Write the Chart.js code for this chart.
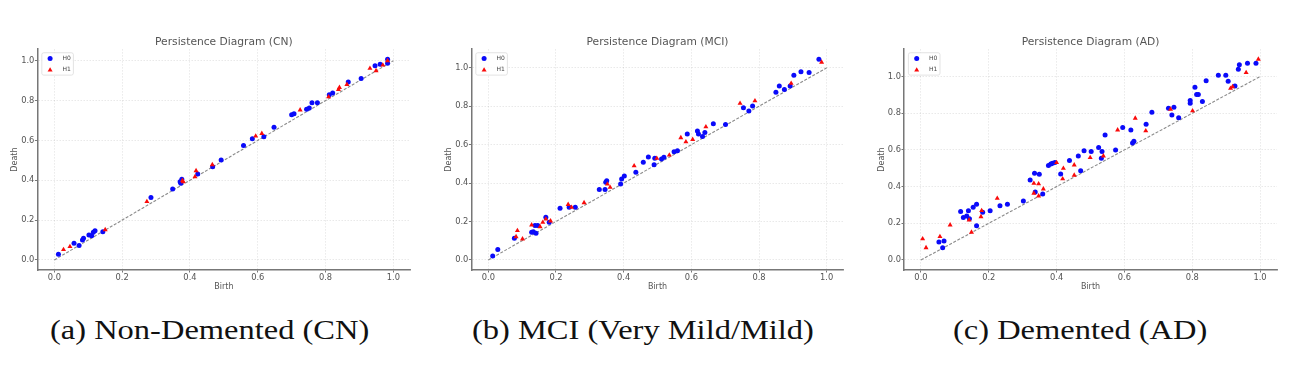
<!DOCTYPE html>
<html>
<head>
<meta charset="utf-8">
<title>Persistence Diagrams</title>
<script src="https://cdn.jsdelivr.net/npm/chart.js@4.4.1/dist/chart.umd.min.js"></script>
<style>
  body { margin: 0; background: #fff; }
  #page { position: relative; width: 1292px; height: 373px; overflow: hidden; }
  .panel { position: absolute; top: 20px; height: 275px; }
  .caption {
    position: absolute; top: 315.5px;
    font-family: 'Liberation Serif', serif; font-size: 28px; line-height: 28px;
    white-space: nowrap; color: #111;
    transform: scaleX(1.16); transform-origin: 0 0;
  }
</style>
</head>
<body>
<div id="page">
  <div class="panel" style="left:0px;width:425px"><canvas id="cn"></canvas></div>
  <div class="panel" style="left:430px;width:425px"><canvas id="mci"></canvas></div>
  <div class="panel" style="left:862px;width:430px"><canvas id="ad"></canvas></div>
  <div class="caption" style="left:50px">(a) Non-Demented (CN)</div>
  <div class="caption" style="left:472px">(b) MCI (Very Mild/Mild)</div>
  <div class="caption" style="left:953px">(c) Demented (AD)</div>
</div>
<script>
// tick values shared by both axes of all three plots
const tickValues = [0, 0.2, 0.4, 0.6, 0.8, 1.0];
// the birth = death reference line
const diagonal = [[0, 0], [1, 1]];
const seriesLabels = ['H0', 'H1'];

// [birth, death] pairs
const cnH0 = [
  [0.012, 0.029], [0.058, 0.084], [0.073, 0.072], [0.083, 0.100], [0.086, 0.109],
  [0.102, 0.125], [0.110, 0.122], [0.115, 0.139], [0.120, 0.147], [0.143, 0.142],
  [0.285, 0.313], [0.349, 0.356], [0.371, 0.393], [0.376, 0.405], [0.373, 0.385],
  [0.423, 0.432], [0.467, 0.468], [0.492, 0.502], [0.558, 0.575], [0.584, 0.609],
  [0.618, 0.619], [0.648, 0.666], [0.700, 0.729], [0.707, 0.734], [0.744, 0.756],
  [0.752, 0.763], [0.760, 0.789], [0.776, 0.789], [0.811, 0.829], [0.821, 0.838],
  [0.867, 0.893], [0.905, 0.911], [0.946, 0.975], [0.961, 0.983], [0.983, 1.008],
  [0.983, 0.987]
];
const cnH1 = [
  [0.027, 0.052], [0.046, 0.067], [0.150, 0.152], [0.273, 0.293], [0.378, 0.399],
  [0.380, 0.392], [0.415, 0.418], [0.418, 0.448], [0.466, 0.478], [0.594, 0.622],
  [0.612, 0.635], [0.725, 0.753], [0.809, 0.819], [0.838, 0.856], [0.841, 0.866],
  [0.863, 0.881], [0.931, 0.962], [0.949, 0.950], [0.969, 0.978], [0.983, 1.000]
];

const mciH0 = [
  [0.013, 0.021], [0.028, 0.055], [0.077, 0.113], [0.128, 0.144], [0.133, 0.147],
  [0.138, 0.179], [0.141, 0.139], [0.146, 0.179], [0.170, 0.222], [0.180, 0.196],
  [0.212, 0.269], [0.239, 0.274], [0.257, 0.274], [0.328, 0.367], [0.345, 0.367],
  [0.347, 0.404], [0.350, 0.412], [0.391, 0.395], [0.394, 0.421], [0.402, 0.437],
  [0.436, 0.456], [0.458, 0.508], [0.473, 0.536], [0.490, 0.496], [0.492, 0.529],
  [0.512, 0.525], [0.519, 0.534], [0.549, 0.563], [0.559, 0.568], [0.588, 0.655],
  [0.618, 0.671], [0.621, 0.655], [0.633, 0.643], [0.640, 0.664], [0.665, 0.709],
  [0.701, 0.705], [0.754, 0.792], [0.770, 0.775], [0.781, 0.801], [0.850, 0.873],
  [0.860, 0.905], [0.875, 0.887], [0.892, 0.905], [0.903, 0.962], [0.924, 0.979],
  [0.948, 0.976], [0.977, 1.045]
];
const mciH1 = [
  [0.082, 0.121], [0.086, 0.153], [0.101, 0.109], [0.128, 0.182], [0.153, 0.173],
  [0.161, 0.196], [0.170, 0.213], [0.184, 0.203], [0.236, 0.289], [0.246, 0.274],
  [0.283, 0.298], [0.352, 0.395], [0.360, 0.378], [0.431, 0.490], [0.498, 0.529],
  [0.535, 0.546], [0.569, 0.636], [0.584, 0.615], [0.604, 0.627], [0.643, 0.693],
  [0.744, 0.815], [0.788, 0.828], [0.895, 0.919], [0.985, 1.029]
];

const adH0 = [
  [0.053, 0.098], [0.064, 0.067], [0.068, 0.104], [0.117, 0.264], [0.125, 0.231],
  [0.135, 0.240], [0.140, 0.269], [0.143, 0.225], [0.154, 0.287], [0.164, 0.304],
  [0.164, 0.187], [0.182, 0.260], [0.204, 0.269], [0.233, 0.295], [0.255, 0.304],
  [0.302, 0.322], [0.322, 0.436], [0.335, 0.473], [0.337, 0.371], [0.349, 0.467],
  [0.359, 0.360], [0.376, 0.515], [0.383, 0.524], [0.388, 0.527], [0.395, 0.531],
  [0.412, 0.469], [0.438, 0.542], [0.464, 0.567], [0.471, 0.487], [0.481, 0.596],
  [0.502, 0.591], [0.524, 0.613], [0.534, 0.591], [0.532, 0.555], [0.543, 0.682],
  [0.574, 0.600], [0.595, 0.722], [0.619, 0.709], [0.624, 0.638], [0.628, 0.647],
  [0.664, 0.740], [0.681, 0.805], [0.730, 0.827], [0.740, 0.791], [0.746, 0.833],
  [0.760, 0.775], [0.794, 0.869], [0.794, 0.855], [0.808, 0.942], [0.813, 0.902],
  [0.818, 0.902], [0.830, 0.864], [0.841, 0.978], [0.877, 1.007], [0.899, 1.007],
  [0.906, 0.975], [0.926, 0.949], [0.936, 1.040], [0.939, 1.065], [0.963, 1.073],
  [0.988, 1.073]
];
const adH1 = [
  [0.005, 0.115], [0.015, 0.067], [0.056, 0.127], [0.086, 0.191], [0.142, 0.218],
  [0.149, 0.151], [0.177, 0.236], [0.179, 0.269], [0.225, 0.336], [0.333, 0.418],
  [0.333, 0.364], [0.347, 0.415], [0.347, 0.349], [0.361, 0.387], [0.400, 0.531],
  [0.418, 0.442], [0.420, 0.500], [0.452, 0.462], [0.452, 0.518], [0.499, 0.558],
  [0.538, 0.567], [0.580, 0.709], [0.632, 0.773], [0.663, 0.704], [0.736, 0.822],
  [0.801, 0.813], [0.913, 0.936], [0.919, 0.945], [0.959, 1.022], [0.995, 1.095]
];

const TEXT = '#555';
const SPINE = '#777';
const FONT = "'DejaVu Sans', sans-serif";

// matplotlib style limits: data range plus 5% each side
function limits(values) {
  const lo = Math.min(...values), hi = Math.max(...values);
  const pad = (hi - lo) * 0.05;
  return [lo - pad, hi + pad];
}

function toPoints(pairs) {
  return pairs.map(p => ({x: p[0], y: p[1]}));
}

// white legend box in the upper left corner of the axes
const legendBox = {
  id: 'legendBox',
  afterDraw(chart) {
    const {ctx, chartArea} = chart;
    const x = chartArea.left + 4.4, y = chartArea.top + 3.6;
    ctx.save();
    ctx.fillStyle = 'rgba(255,255,255,0.85)';
    ctx.strokeStyle = '#dcdcdc';
    ctx.lineWidth = 0.8;
    ctx.beginPath();
    ctx.roundRect(x, y, 31.6, 22.4, 2);
    ctx.fill();
    ctx.stroke();
    chart.data.datasets.filter(d => !d.showLine).forEach((d, i) => {
      const cx = x + 8.3, cy = y + 5.7 + i * 11;
      const r = d.pointRadius;
      ctx.fillStyle = d.backgroundColor;
      ctx.beginPath();
      if (d.pointStyle === 'triangle') {
        for (let k = 0; k < 3; k++) {
          const a = -Math.PI / 2 + k * 2 * Math.PI / 3;
          ctx.lineTo(cx + r * Math.cos(a), cy + r * Math.sin(a) + r * 0.25);
        }
        ctx.closePath();
      } else {
        ctx.arc(cx, cy, r, 0, Math.PI * 2);
      }
      ctx.fill();
      ctx.fillStyle = '#444';
      ctx.font = "6px " + FONT;
      ctx.textBaseline = 'middle';
      ctx.fillText(d.label, x + 20.6, cy);
    });
    ctx.restore();
  }
};

function makePlot(id, title, h0, h1, yAxisWidth, rightPad) {
  const xLim = limits([...h0, ...h1, ...diagonal].map(p => p[0]));
  const yLim = limits([...h0, ...h1, ...diagonal].map(p => p[1]));

  const axis = (min, max, label, isX) => ({
    type: 'linear',
    min: min,
    max: max,
    afterBuildTicks: (scale) => { scale.ticks = tickValues.map(v => ({value: v})); },
    afterFit: (scale) => {
      if (isX) scale.height = 25; else scale.width = yAxisWidth;
    },
    ticks: {
      color: TEXT,
      font: {family: FONT, size: 8.3},
      padding: isX ? 0 : 0.5,
      callback: (v) => v.toFixed(1)
    },
    grid: {
      color: 'rgba(0,0,0,0.11)',
      lineWidth: 0.8,
      tickLength: 2.5,
      tickColor: SPINE,
      tickWidth: 1,
      tickBorderDash: []
    },
    border: {display: true, color: SPINE, width: 1.5, dash: [1.5, 1.5]},
    title: {
      display: true,
      text: label,
      color: TEXT,
      font: {family: FONT, size: 8},
      padding: isX ? {top: 0, bottom: 3.5} : {top: yAxisWidth - 22 - 4.8, bottom: 0}
    }
  });

  return new Chart(document.getElementById(id), {
    type: 'scatter',
    data: {
      datasets: [
        {
          label: seriesLabels[0],
          data: toPoints(h0),
          pointStyle: 'circle',
          pointRadius: 2.5,
          backgroundColor: 'rgb(10,10,250)',
          borderWidth: 0,
          order: 2
        },
        {
          label: seriesLabels[1],
          data: toPoints(h1),
          pointStyle: 'triangle',
          pointRadius: 2.9,
          backgroundColor: 'rgb(250,10,10)',
          borderWidth: 0,
          order: 1
        },
        {
          label: 'diagonal',
          data: toPoints(diagonal),
          showLine: true,
          pointRadius: 0,
          borderColor: 'rgba(125,125,125,0.9)',
          borderWidth: 1.1,
          borderDash: [3, 1.6],
          order: 3
        }
      ]
    },
    options: {
      responsive: true,
      maintainAspectRatio: false,
      animation: false,
      layout: {padding: {left: 0, right: rightPad, top: 0, bottom: 0}},
      plugins: {
        legend: {display: false},
        tooltip: {enabled: false},
        title: {
          display: true,
          text: title,
          fullSize: false,
          color: TEXT,
          font: {family: FONT, size: 10.7, weight: 'normal'},
          padding: {top: 15.6, bottom: 0.7}
        }
      },
      scales: {
        x: axis(xLim[0], xLim[1], 'Birth', true),
        y: axis(yLim[0], yLim[1], 'Death', false)
      }
    },
    plugins: [legendBox]
  });
}

makePlot('cn', 'Persistence Diagram (CN)', cnH0, cnH1, 37.4, 14.7);
makePlot('mci', 'Persistence Diagram (MCI)', mciH0, mciH1, 41.4, 11.4);
makePlot('ad', 'Persistence Diagram (AD)', adH0, adH1, 42, 15);
</script>
</body>
</html>
